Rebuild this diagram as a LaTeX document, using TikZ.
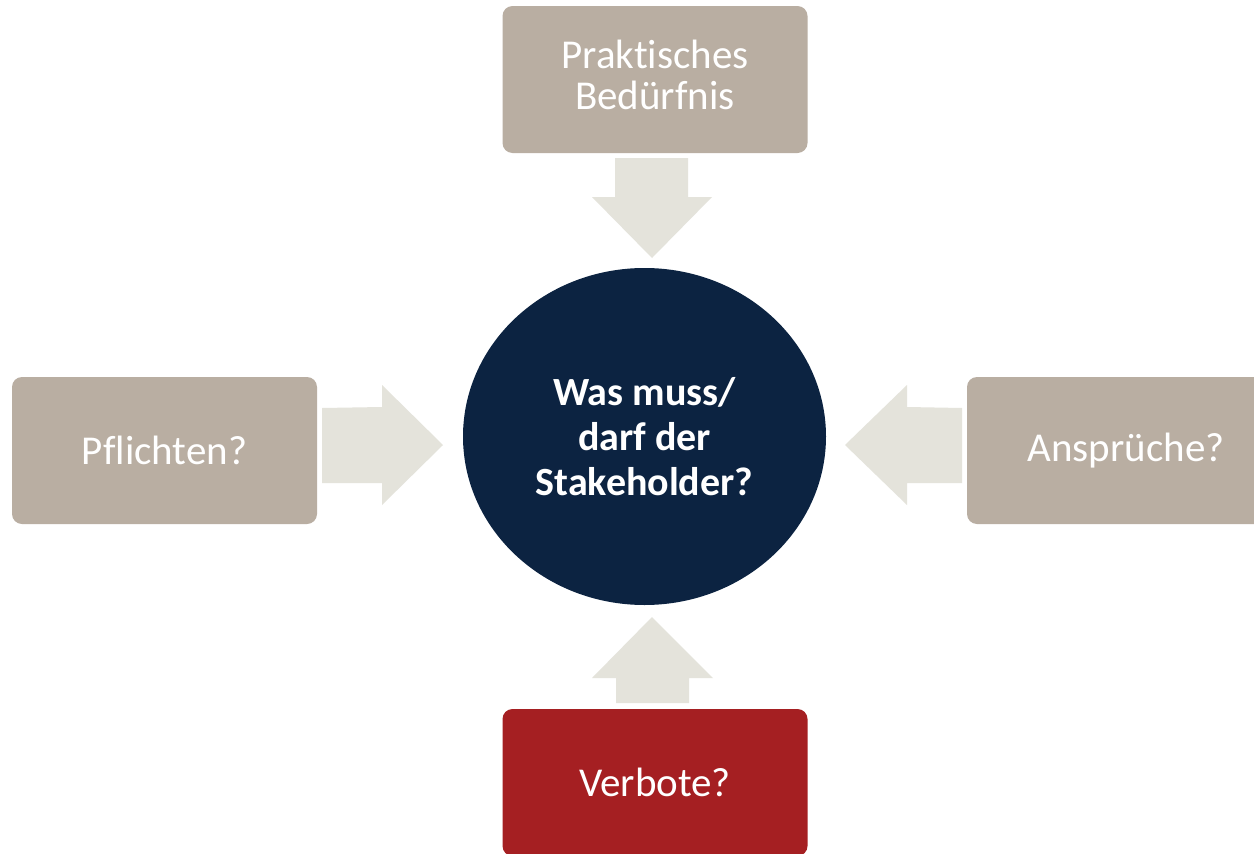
\documentclass[tikz,border=0pt]{standalone}
\usepackage{fontspec}
\setmainfont{Carlito}[RawFeature=-liga]
\usetikzlibrary{shapes.geometric}
\definecolor{taupe}{HTML}{B9AEA2}
\definecolor{arrowgray}{HTML}{E4E3DB}
\definecolor{navy}{HTML}{0C2341}
\definecolor{darkred}{HTML}{A51F22}
\tikzset{
  box/.style={fill=taupe, rounded corners=10pt, minimum width=305pt, minimum height=147pt,
    inner sep=0pt, text=white, font=\fontsize{41}{41}\selectfont, align=center},
  boxtext/.style={inner sep=0pt, text=white, font=\fontsize{41}{41}\selectfont, align=center},
  blockarrow/.style={fill=arrowgray, draw=none}
}
\begin{document}
\begin{tikzpicture}[x=1pt,y=-1pt]
\useasboundingbox (0,0) rectangle (1254,854);
\fill[white] (0,0) rectangle (1254,854);
% arrows
\fill[blockarrow] (615,158) -- (688,158) -- (688,197) -- (712,197) -- (652,258) -- (592,197) -- (615,197) -- cycle;
\fill[blockarrow] (322,408) -- (382,407) -- (382,385) -- (443,445) -- (382,505) -- (382,483) -- (322,483) -- cycle;
\fill[blockarrow] (962,408) -- (907,407) -- (907,385) -- (845,445) -- (907,505) -- (907,483) -- (962,483) -- cycle;
\fill[blockarrow] (652,617) -- (713,678) -- (689,678) -- (689,703) -- (616,703) -- (616,678) -- (592,678) -- cycle;
% boxes
\node[box] (top) at (655,79.5) {};
\node[boxtext] (toptext) at ([yshift=5pt]top.center) {Praktisches\\Bedürfnis};
\node[box] (left) at (164.5,450.5) {Pflichten?};
\node[box, minimum width=318pt] (right) at (1126,450.5) {Ansprüche?};
\node[box, fill=darkred] (bottom) at (655,782.5) {Verbote?};
% center
\node[ellipse, fill=navy, minimum width=363pt, minimum height=337pt, inner sep=0pt,
  text=white, align=center, font=\bfseries\fontsize{40}{45}\selectfont] (center) at (644.5,436.5)
  {Was muss/\\darf der\\Stakeholder?};
\end{tikzpicture}
\end{document}
